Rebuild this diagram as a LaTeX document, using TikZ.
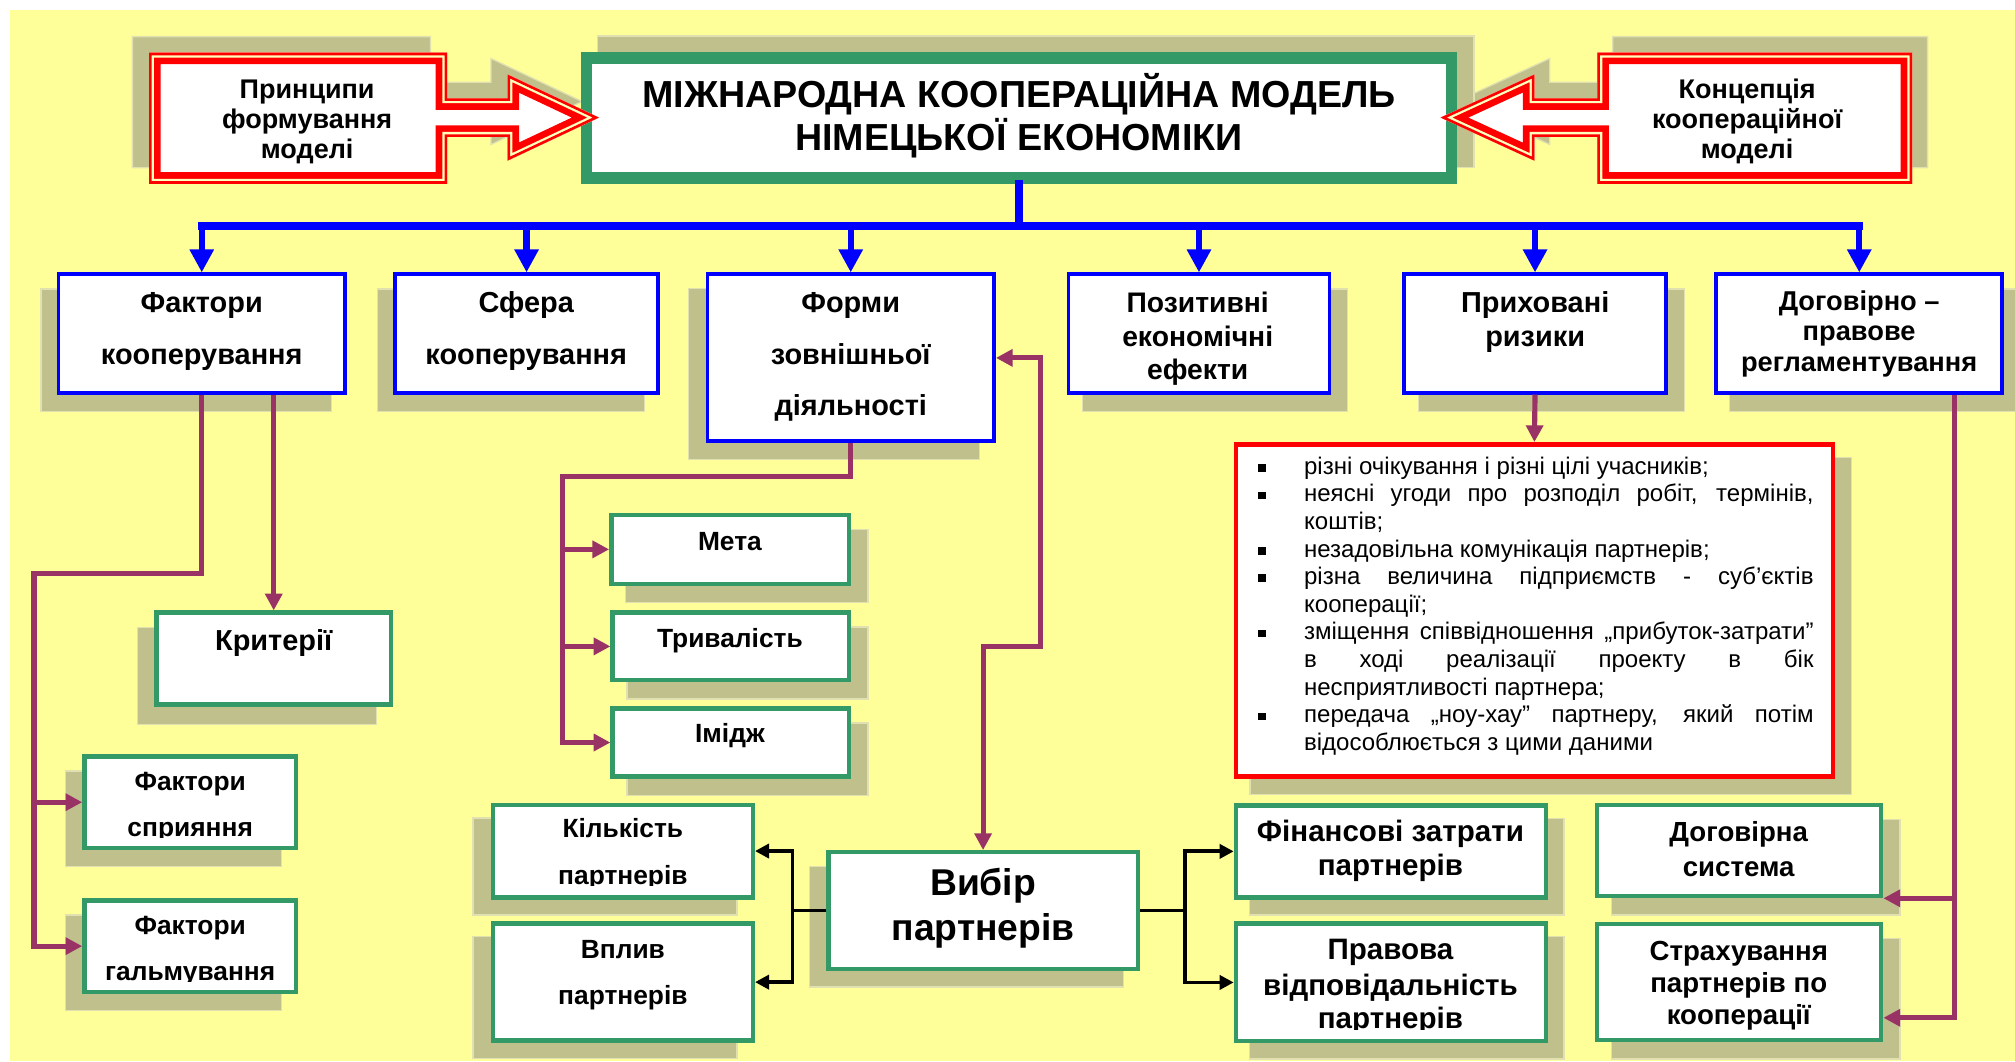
\documentclass[tikz,border=0pt]{standalone}
\usepackage{fontspec}
\setmainfont{Liberation Sans}
\newfontfamily\nar{Liberation Sans}
\usetikzlibrary{arrows.meta}

\definecolor{bgyel}{RGB}{255,255,153}
\definecolor{shfill}{RGB}{192,192,140}
\definecolor{shedge}{RGB}{224,224,176}
\definecolor{grn}{RGB}{51,153,102}
\definecolor{mag}{RGB}{153,51,102}
\definecolor{blu}{RGB}{0,0,255}
\definecolor{rd}{RGB}{255,0,0}
\definecolor{gapcol}{RGB}{255,255,190}

% framed box with its shadow: name, style, border, x1, y1, x2, y2, shadow dx, shadow dy
\newcommand\shbox[9]{%
  \filldraw[shadowbox] ({#4+#8},{#5+#9}) rectangle ({#6+#8},{#7+#9});
  \node[#2, line width=#3pt, inner sep=0pt, outer sep={#3pt/2},
        minimum width={#6-#4-#3}, minimum height={#7-#5-#3}]
        (#1) at ({(#4+#6)/2},{(#5+#7)/2}) {};}
% lines of a label, each put on its own baseline: name, style, x, list of y/text
\newcommand\tlines[4]{%
  \foreach \yy/\s [count=\i] in {#4}
    {\node[#2, anchor=base, inner sep=0pt] (#1-\i) at (#3,\yy) {\s};}}
% shadow and body of an arrow callout
\newcommand\callshadow[3]{\begin{scope}[shift={(#1,#2)}]\filldraw[shadowbox] #3;\end{scope}}
\newcommand\callbody[1]{%
  \fill[white] #1;
  \begin{scope}
    \clip #1;
    \draw[rd, line width=18pt] #1;
    \draw[gapcol, line width=7.6pt] #1;
    \draw[rd, line width=4pt] #1;
  \end{scope}}

\tikzset{
  shadowbox/.style={fill=shfill, draw=shedge, line width=1pt},
  bbox/.style={draw=blu, fill=white},
  gbox/.style={draw=grn, fill=white},
  rbox/.style={draw=rd, fill=white},
  bl/.style={blu, line width=6pt, line cap=rect},
  bla/.style={blu, line width=5pt, -{Triangle[width=18pt,length=18pt]}},
  mg/.style={mag, line width=4pt},
  mga/.style={mag, line width=4pt, -{Triangle[width=13pt,length=13pt]}},
  bk/.style={black, line width=3pt},
  bka/.style={black, line width=3pt, -{Triangle[width=11pt,length=11pt]}},
  ttl/.style={font=\nar\bfseries\fontsize{29.3}{33}\selectfont},
  cal/.style={font=\nar\bfseries\fontsize{21}{24}\selectfont},
  hd/.style={font=\nar\bfseries\fontsize{22.5}{26}\selectfont},
  hdb/.style={font=\nar\bfseries\fontsize{22}{25}\selectfont},
  hdc/.style={font=\nar\bfseries\fontsize{21.2}{25}\selectfont},
  sm/.style={font=\nar\bfseries\fontsize{20.5}{24}\selectfont},
  big/.style={font=\nar\bfseries\fontsize{29}{32}\selectfont},
  md/.style={font=\nar\bfseries\fontsize{23}{26}\selectfont},
  mdb/.style={font=\nar\bfseries\fontsize{21.5}{25}\selectfont},
  lst/.style={font=\nar\fontsize{18.7}{21.5}\selectfont, anchor=base west, inner sep=0pt},
}

\begin{document}
\begin{tikzpicture}[x=1pt, y=-1pt, line join=miter]
\useasboundingbox (0,0) rectangle (1568,826);
\fill[white] (0,0) rectangle (1568,826);
\fill[bgyel] (7.8,7.8) rectangle (1568,826);

% shadows of the two side callouts
\callshadow{-13}{-12.5}{(116,41) -- (348,41) -- (348,76.5) -- (395,76.5) -- (395,58) -- (466,91.5) -- (395,125) -- (395,106.5) -- (348,106.5) -- (348,143) -- (116,143) -- cycle}
\callshadow{12}{-12.5}{(1488,41) -- (1243,41) -- (1243,76.5) -- (1194,76.5) -- (1194,58) -- (1121,91.5) -- (1194,125) -- (1194,106.5) -- (1243,106.5) -- (1243,143) -- (1488,143) -- cycle}

% title
\shbox{title}{gbox}{9}{452}{40.5}{1134}{143}{13}{-12.5}

% first row
\shbox{b1}{bbox}{3}{44}{212}{270}{307}{-12}{13}
\shbox{b2}{bbox}{3}{306}{212}{513.5}{307}{-12}{13}
\shbox{b3}{bbox}{3}{549}{212}{775}{345}{-13}{12.5}
\shbox{b4}{bbox}{3}{830}{212}{1036}{307}{12.5}{13}
\shbox{b5}{bbox}{3}{1091}{212}{1298}{307}{13}{13}
\shbox{b6}{bbox}{3}{1334}{212}{1559.6}{307}{12}{13}

% lower boxes
\shbox{risk}{rbox}{3.5}{960}{344}{1428}{606}{12.6}{12}
\shbox{krit}{gbox}{3.4}{120}{475}{306}{550}{-13}{13.5}
\shbox{fs}{gbox}{3.4}{64}{587}{232}{661.5}{-13}{13}
\shbox{fg}{gbox}{3.4}{64}{699}{232}{773.5}{-13}{13}
\shbox{meta}{gbox}{3.4}{474}{399}{662.5}{456}{13}{13}
\shbox{tryv}{gbox}{3.4}{475}{475}{662.5}{531}{13}{13}
\shbox{im}{gbox}{3.4}{475}{549.6}{662.5}{606}{13}{13}
\shbox{kil}{gbox}{3.4}{382}{624.5}{587.5}{700}{-14}{12}
\shbox{vpl}{gbox}{3.4}{382}{717}{587.5}{811.5}{-14}{12}
\shbox{vyb}{gbox}{3.4}{643}{661.5}{887}{755.6}{-13}{12.5}
\shbox{fin}{gbox}{3.4}{960}{625}{1204.6}{700}{12.5}{12}
\shbox{prav}{gbox}{3.4}{960}{717}{1204.6}{812}{12.5}{12}
\shbox{dog}{gbox}{3.4}{1241}{624.5}{1465.6}{699}{13}{13}
\shbox{str}{gbox}{3.4}{1241}{717.5}{1465.6}{811}{13}{13}

% labels
\tlines{title}{ttl}{793}{84/МІЖНАРОДНА КООПЕРАЦІЙНА МОДЕЛЬ, 117/НІМЕЦЬКОЇ ЕКОНОМІКИ}
\tlines{b1}{hd}{157}{243.3/Фактори, 283.3/кооперування}
\tlines{b2}{hd}{409.5}{243.3/Сфера, 283.3/кооперування}
\tlines{b3}{hd}{662}{243.3/Форми, 283.3/зовнішньої, 323/діяльності}
\tlines{b4}{hdb}{932}{243.3/Позитивні, 269.8/економічні, 295.7/ефекти}
\tlines{b5}{hd}{1194.6}{243.3/Приховані, 269.8/ризики}
\tlines{b6}{hdc}{1446.7}{241.8/Договірно –, 264.6/правове, 289.2/регламентування}
\tlines{krit}{hd}{213}{506/Критерії}
\begin{scope}
  \clip (64,587) rectangle (232,651.8);
  \tlines{fs}{sm}{148}{615/Фактори, 651/сприяння}
\end{scope}
\begin{scope}
  \clip (64,699) rectangle (232,763.8);
  \tlines{fg}{sm}{148}{727/Фактори, 763/гальмування}
\end{scope}
\tlines{meta}{sm}{568}{428/Мета}
\tlines{tryv}{sm}{568}{503.6/Тривалість}
\tlines{im}{sm}{568}{578/Імідж}
\begin{scope}
  \clip (382,624.5) rectangle (587.5,688.8);
  \tlines{kil}{sm}{484.7}{652/Кількість, 688/партнерів}
\end{scope}
\tlines{vpl}{sm}{484.7}{745.7/Вплив, 781.6/партнерів}
\tlines{vyb}{big}{765}{696.5/Вибір, 731.6/партнерів}
\tlines{fin}{md}{1082}{655/Фінансові затрати, 681/партнерів}
\begin{scope}
  \clip (960,717) rectangle (1204.6,800.8);
  \tlines{prav}{md}{1082}{747/Правова, 774.3/відповідальність, 800/партнерів}
\end{scope}
\tlines{dog}{mdb}{1353}{654.6/Договірна, 681.7/система}
\tlines{str}{mdb}{1353}{747.5/Страхування, 772/партнерів по, 797/кооперації}

% list of hidden risks
\foreach \yy/\s [count=\i] in {369/{різні очікування і різні цілі учасників;}, 412/{коштів;},
    433.5/{незадовільна комунікація партнерів;}, 476.5/{кооперації;},
    541/{несприятливості партнера;}, 584/{відособлюється з цими даними}}
  {\node[lst] (rl-\i) at (1014.6,\yy) {\s};}
\foreach \yy/\s [count=\i] in {390.5/{неясні угоди про розподіл робіт, термінів,},
    455/{різна величина підприємств - суб’єктів},
    498/{зміщення співвідношення „прибуток-затрати”},
    519.5/{в ході реалізації проекту в бік},
    562.5/{передача „ноу-хау” партнеру, який потім}}
  {\node[lst] (rj-\i) at (1014.6,\yy) {\hbox to 396.5pt{\s}};}
\foreach \yy in {369,390.5,433.5,455,498,562.5}
  \fill (979.3,\yy-8) rectangle (985.3,\yy-2);

% blue distribution bus
\coordinate (bus) at (0,176);
\draw[bl] (title.south) -- (title.south |- bus);
\draw[bl] (b1.north |- bus) -- (b6.north |- bus);
\foreach \b in {b1,b2,b3,b4,b5,b6}
  \draw[bla] (\b.north |- bus) -- (\b.north);

% purple connectors
\coordinate (jL) at (26.5,446);
\draw[mga] (b1.south) |- (jL) |- (fg.west);
\draw[mga] (jL |- fs.west) -- (fs.west);
\draw[mga] (krit.north |- b1.south) -- (krit.north);
\coordinate (jF) at (437.6,371);
\draw[mga] (b3.south) |- (jF) |- (im.west);
\draw[mga] (jF |- meta.west) -- (meta.west);
\draw[mga] (jF |- tryv.west) -- (tryv.west);
\coordinate (jV) at (810,503);
\draw[mg, {Triangle[width=13pt,length=13pt]}-{Triangle[width=13pt,length=13pt]}]
  (b3.east) -| (jV) -| (vyb.north);
\draw[mga] (b5.south) -- (risk.north);
\coordinate (jD) at (1521,792);
\draw[mga] (b6.south -| jD) -- (jD) -- (str.east |- jD);
\draw[mga] (jD |- dog.south east) -- (dog.south east);

% black branches of the partner choice
\coordinate (jB) at ([xshift=-26.3pt]vyb.west);
\coordinate (jC) at ([xshift=35pt]vyb.east);
\draw[bk] (vyb.west) -- (jB);
\draw[bka] (jB) |- (kil.east);
\draw[bka] (jB) |- (vpl.east);
\draw[bk] (vyb.east) -- (jC);
\draw[bka] (jC) |- (fin.west);
\draw[bka] (jC) |- (prav.west);

% side callouts pointing at the title
\callbody{(116,41) -- (348,41) -- (348,76.5) -- (395,76.5) -- (395,58) -- (466,91.5) -- (395,125) -- (395,106.5) -- (348,106.5) -- (348,143) -- (116,143) -- cycle}
\callbody{(1488,41) -- (1243,41) -- (1243,76.5) -- (1194,76.5) -- (1194,58) -- (1121,91.5) -- (1194,125) -- (1194,106.5) -- (1243,106.5) -- (1243,143) -- (1488,143) -- cycle}
\tlines{prn}{cal}{239}{76.5/Принципи, 100/формування, 123/моделі}
\tlines{knc}{cal}{1359.5}{76.5/Концепція, 100/кооперaційної, 123/моделі}
\end{tikzpicture}
\end{document}
